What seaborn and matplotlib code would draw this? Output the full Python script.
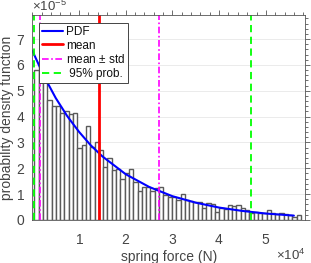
import numpy as np
import pandas as pd
import seaborn as sns
import matplotlib.pyplot as plt
from matplotlib.ticker import ScalarFormatter, AutoMinorLocator, MultipleLocator


# histogram bars (density, x1e-5), equal bins from bin_start
bin_start = 420
bin_width = 921
bar_heights = [5.8, 6.0, 5.7, 4.64, 4.4, 4.4, 4.13, 4.2, 4.1, 4.15,
               2.78, 2.9, 3.65, 2.84, 3.03, 2.7, 2.05, 2.4, 1.93, 1.97,
               1.6, 1.8, 1.97, 1.48, 1.12, 1.29, 1.27, 1.12, 1.23, 1.26,
               0.97, 0.9, 0.9, 0.77, 1.0, 0.77, 0.75, 0.71, 0.71, 0.46,
               0.67, 0.6, 0.32, 0.46, 0.44, 0.58, 0.55, 0.58, 0.46, 0.39,
               0.27, 0.32, 0.28, 0.28, 0.39, 0.28, 0.25, 0.26, 0.23, 0.19,
               0.12, 0.19]

# fitted pdf curve
pdf_force = [0, 2500, 5000, 7500, 10000, 12500, 15000, 20000, 25000,
             30000, 35000, 40000, 45000, 50000, 56000]
pdf_value = [6.55, 5.56, 4.72, 4.01, 3.41, 2.89, 2.46, 1.77, 1.28,
             0.92, 0.67, 0.48, 0.35, 0.25, 0.17]

# statistics lines
force_mean = 14350
force_std = 12700
prob95 = [430, 46800]

n = len(bar_heights)
centers = bin_start + bin_width * (np.arange(n) + 0.5)
hist_df = pd.DataFrame({'force': centers, 'density': np.array(bar_heights) * 1e-5})
pdf_df = pd.DataFrame({'force': pdf_force, 'pdf': np.array(pdf_value) * 1e-5})

sns.set_style('white')
plt.rcParams['font.family'] = ['Liberation Sans', 'DejaVu Sans']
plt.rcParams['mathtext.fontset'] = 'custom'
plt.rcParams['mathtext.rm'] = 'Liberation Sans'
plt.rcParams['mathtext.it'] = 'Liberation Sans:italic'
plt.rcParams['font.size'] = 10

txt = '#444444'
axc = '#555555'

fig = plt.figure(figsize=(3.11, 2.63), dpi=100)
ax = fig.add_axes([0.104, 0.1635, 0.877, 0.7795])

sns.histplot(data=hist_df, x='force', weights='density', binwidth=bin_width,
             binrange=(bin_start, bin_start + n * bin_width),
             stat='count', color='white', edgecolor='#5a5a5a',
             linewidth=1.0, alpha=1, ax=ax)
sns.lineplot(data=pdf_df, x='force', y='pdf', color='blue', linewidth=1.5,
             ax=ax, label='PDF')

ax.axvline(force_mean, color='red', linewidth=2, label='mean')
ax.axvline(force_mean - force_std, color='magenta', linewidth=1.2,
           linestyle=(0, (4, 1.5, 1, 1.5)), label='mean $\\pm$ std')
ax.axvline(force_mean + force_std, color='magenta', linewidth=1.2,
           linestyle=(0, (4, 1.5, 1, 1.5)))
ax.axvline(prob95[0], color='#00ff00', linewidth=1.3, linestyle=(0, (4, 2.5)),
           label=' 95% prob.')
ax.axvline(prob95[1], color='#00ff00', linewidth=1.3, linestyle=(0, (4, 2.5)))

ax.set_xlim(0, 58400)
ax.set_ylim(0, 7.93e-5)
ax.xaxis.set_major_locator(MultipleLocator(10000))
ax.yaxis.set_major_locator(MultipleLocator(1e-5))
ax.xaxis.set_minor_locator(AutoMinorLocator(5))
ax.yaxis.set_minor_locator(AutoMinorLocator(5))
ax.set_xticks([10000, 20000, 30000, 40000, 50000])

for axis in (ax.xaxis, ax.yaxis):
    fmt = ScalarFormatter(useMathText=True)
    fmt.set_powerlimits((0, 0))
    axis.set_major_formatter(fmt)

ax.grid(axis='y', color='#e8e8e8', linewidth=0.6)
ax.set_axisbelow(True)
for s in ax.spines.values():
    s.set_color(axc)
    s.set_linewidth(0.6)
ax.tick_params(which='both', direction='out', top=True, right=True,
               color=axc, width=0.6, labelcolor=txt, labelsize=10)
ax.tick_params(which='major', length=3.8, pad=1.5)
ax.tick_params(axis='x', which='major', pad=5.5)
ax.tick_params(which='minor', length=2.2)
ax.yaxis.get_offset_text().set_color(txt)
ax.yaxis.get_offset_text().set_fontsize(9.5)

# x exponent drawn by hand, the automatic one lands below the figure edge
ax.xaxis.get_offset_text().set_visible(False)
fig.text(0.982, 0.012, r'$\times10^{4}$', ha='right', va='baseline',
         color=txt, fontsize=9.5)

ax.set_xlabel('spring force (N)', color=txt, fontsize=10, labelpad=2)
ax.set_ylabel('probability density function', color=txt, fontsize=10, labelpad=1)

leg = ax.legend(loc='upper left', bbox_to_anchor=(0.026, 0.962), borderaxespad=0,
                fontsize=8.5, handlelength=1.75, handletextpad=0.25,
                labelspacing=0.15, borderpad=0.25, fancybox=False, framealpha=1)
leg.get_frame().set_edgecolor('#444444')
leg.get_frame().set_linewidth(0.7)
for t in leg.get_texts():
    t.set_color('#111111')

plt.savefig('out.png', dpi=100)
